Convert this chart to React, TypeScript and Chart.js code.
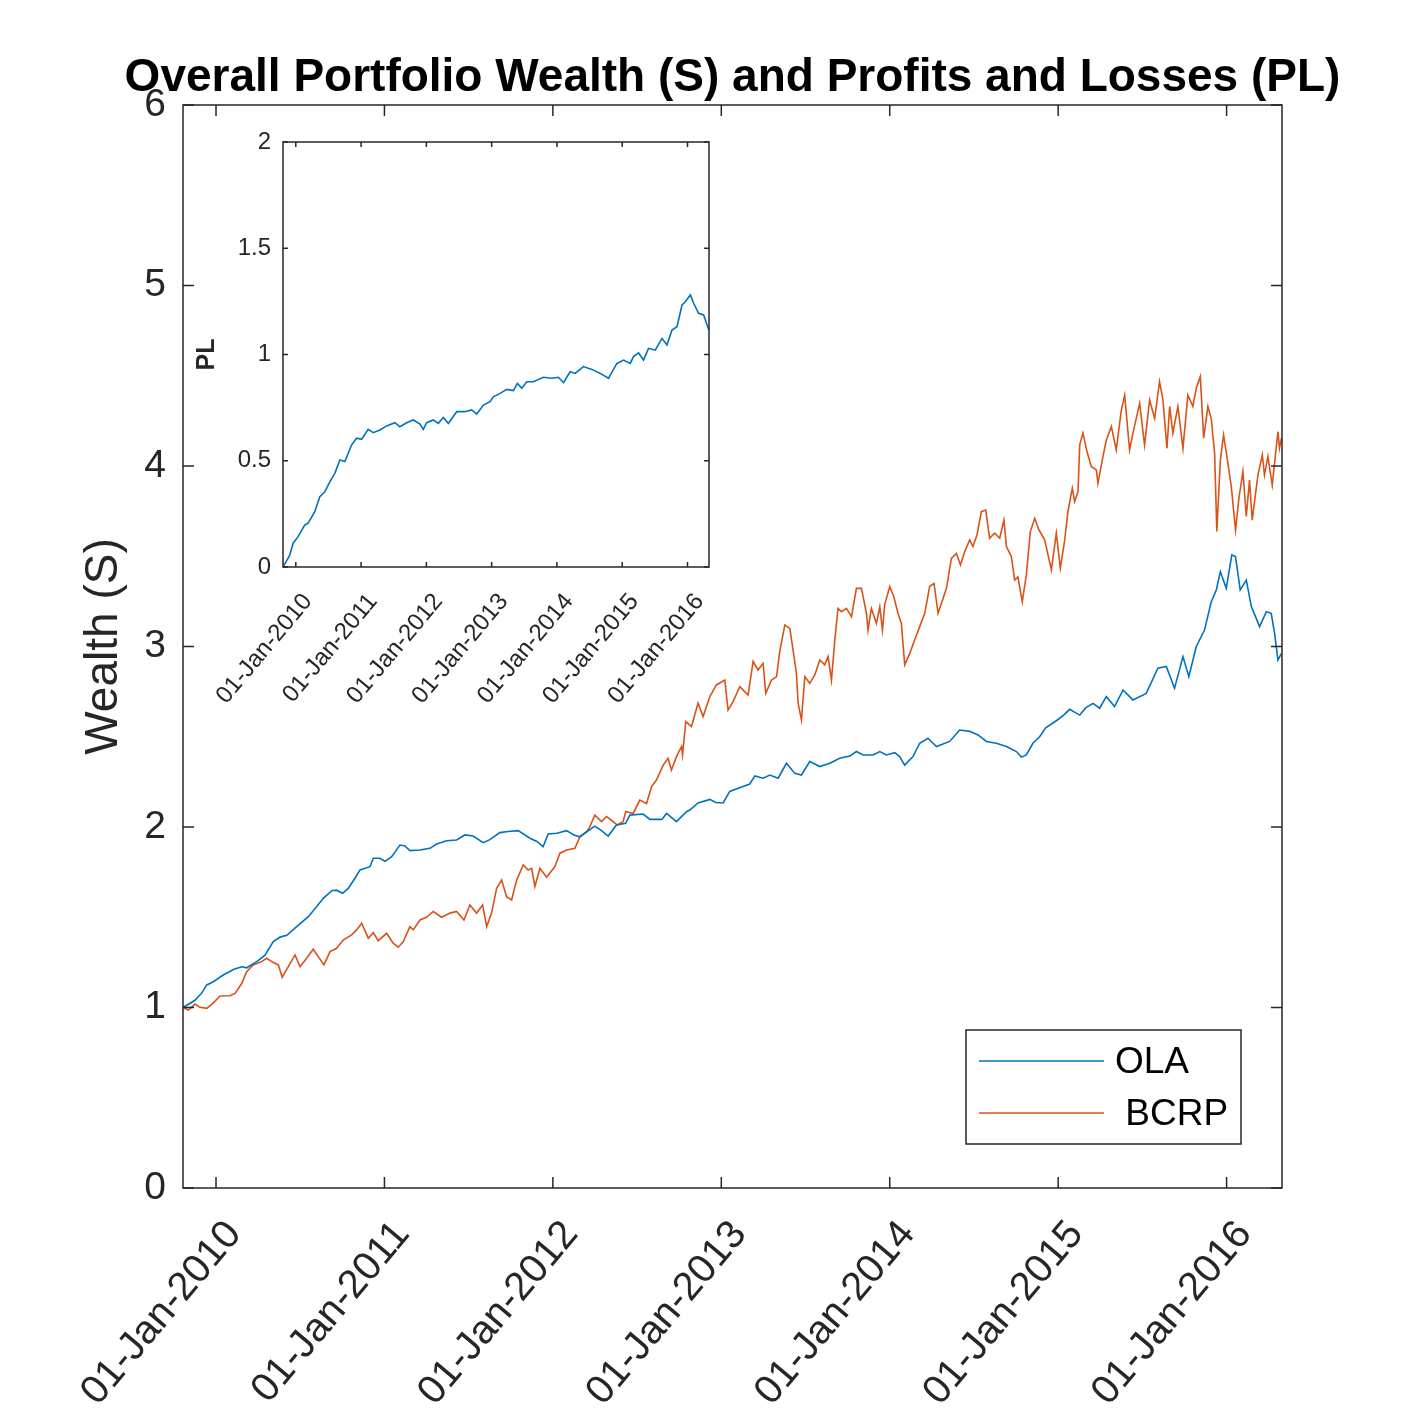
import React, { useEffect, useRef } from 'react';
import { Chart, registerables } from 'chart.js';

Chart.register(...registerables);

const FONT = "'Liberation Sans', Arial, Helvetica, sans-serif";
const AXIS_COLOR = '#262626';
const OLA_COLOR = '#0072BD';
const BCRP_COLOR = '#D95319';

const titleText = 'Overall Portfolio Wealth (S) and Profits and Losses (PL)';
const wealthAxisTitle = 'Wealth (S)';
const plAxisTitle = 'PL';
const seriesNames = ['OLA', ' BCRP'];

const dateMin = 2009.804;
const dateMax = 2016.329;
const tickYears = [2010, 2011, 2012, 2013, 2014, 2015, 2016];
const xTickLabels = ['01-Jan-2010', '01-Jan-2011', '01-Jan-2012', '01-Jan-2013', '01-Jan-2014', '01-Jan-2015', '01-Jan-2016'];
const wealthTicks = [0, 1, 2, 3, 4, 5, 6];
const plTicks = [0, 0.5, 1, 1.5, 2];

const olaDates = [
  2009.804, 2009.875, 2009.915, 2009.945, 2009.984, 2010.043, 2010.103, 2010.153, 2010.182, 2010.242,
  2010.291, 2010.340, 2010.380, 2010.420, 2010.479, 2010.548, 2010.598, 2010.637, 2010.687, 2010.716,
  2010.752, 2010.785, 2010.825, 2010.855, 2010.914, 2010.934, 2010.973, 2011.003, 2011.043, 2011.092,
  2011.122, 2011.151, 2011.211, 2011.270, 2011.310, 2011.369, 2011.428, 2011.478, 2011.527, 2011.586,
  2011.626, 2011.685, 2011.733, 2011.794, 2011.864, 2011.905, 2011.942, 2011.972, 2012.024, 2012.081,
  2012.125, 2012.160, 2012.226, 2012.249, 2012.285, 2012.328, 2012.378, 2012.432, 2012.457, 2012.536,
  2012.576, 2012.647, 2012.675, 2012.734, 2012.795, 2012.813, 2012.862, 2012.932, 2012.967, 2013.011,
  2013.050, 2013.129, 2013.169, 2013.199, 2013.248, 2013.288, 2013.337, 2013.387, 2013.436, 2013.476,
  2013.525, 2013.585, 2013.644, 2013.703, 2013.763, 2013.802, 2013.842, 2013.901, 2013.941, 2013.980,
  2014.030, 2014.059, 2014.089, 2014.138, 2014.178, 2014.227, 2014.277, 2014.356, 2014.415, 2014.475,
  2014.524, 2014.574, 2014.633, 2014.693, 2014.752, 2014.782, 2014.811, 2014.850, 2014.890, 2014.926,
  2014.991, 2015.033, 2015.068, 2015.128, 2015.163, 2015.207, 2015.246, 2015.286, 2015.335, 2015.385,
  2015.444, 2015.523, 2015.592, 2015.642, 2015.691, 2015.741, 2015.776, 2015.820, 2015.869, 2015.909,
  2015.939, 2015.963, 2015.998, 2016.031, 2016.053, 2016.081, 2016.117, 2016.147, 2016.196, 2016.236,
  2016.265, 2016.285, 2016.305, 2016.326,
];
const olaWealth = [
  1.00, 1.04, 1.08, 1.125, 1.143, 1.18, 1.21, 1.226, 1.22, 1.254,
  1.29, 1.365, 1.39, 1.40, 1.448, 1.503, 1.559, 1.605, 1.647, 1.65,
  1.633, 1.66, 1.716, 1.762, 1.78, 1.827, 1.827, 1.81, 1.836, 1.90,
  1.895, 1.869, 1.873, 1.882, 1.906, 1.924, 1.928, 1.956, 1.95, 1.913,
  1.93, 1.969, 1.975, 1.98, 1.938, 1.92, 1.891, 1.961, 1.965, 1.98,
  1.956, 1.946, 1.99, 2.005, 1.983, 1.95, 2.011, 2.02, 2.066, 2.072,
  2.042, 2.042, 2.075, 2.03, 2.086, 2.094, 2.133, 2.153, 2.136, 2.133,
  2.197, 2.224, 2.238, 2.283, 2.27, 2.288, 2.27, 2.353, 2.297, 2.288,
  2.363, 2.335, 2.353, 2.381, 2.393, 2.418, 2.399, 2.399, 2.418, 2.399,
  2.412, 2.39, 2.343, 2.39, 2.464, 2.492, 2.446, 2.474, 2.537, 2.53,
  2.51, 2.474, 2.464, 2.446, 2.418, 2.387, 2.399, 2.464, 2.50, 2.55,
  2.59, 2.62, 2.652, 2.62, 2.66, 2.685, 2.658, 2.722, 2.667, 2.759,
  2.704, 2.74, 2.88, 2.889, 2.769, 2.944, 2.833, 3.0, 3.091, 3.248,
  3.313, 3.415, 3.322, 3.507, 3.498, 3.313, 3.368, 3.221, 3.11, 3.193,
  3.184, 3.073, 2.925, 2.962,
];

const bcrpDates = [
  2009.804, 2009.836, 2009.875, 2009.905, 2009.945, 2009.984, 2010.024, 2010.083, 2010.113, 2010.153,
  2010.182, 2010.221, 2010.271, 2010.301, 2010.340, 2010.370, 2010.393, 2010.429, 2010.469, 2010.499,
  2010.538, 2010.577, 2010.607, 2010.641, 2010.677, 2010.716, 2010.755, 2010.805, 2010.835, 2010.865,
  2010.904, 2010.934, 2010.963, 2011.013, 2011.052, 2011.082, 2011.112, 2011.151, 2011.171, 2011.211,
  2011.250, 2011.290, 2011.339, 2011.389, 2011.428, 2011.472, 2011.507, 2011.547, 2011.583, 2011.607,
  2011.636, 2011.666, 2011.696, 2011.725, 2011.755, 2011.785, 2011.824, 2011.853, 2011.874, 2011.893,
  2011.923, 2011.963, 2012.012, 2012.042, 2012.081, 2012.131, 2012.160, 2012.200, 2012.220, 2012.249,
  2012.289, 2012.319, 2012.358, 2012.382, 2012.417, 2012.433, 2012.477, 2012.516, 2012.556, 2012.586,
  2012.615, 2012.655, 2012.684, 2012.704, 2012.734, 2012.764, 2012.770, 2012.789, 2012.823, 2012.862,
  2012.892, 2012.932, 2012.971, 2013.021, 2013.040, 2013.070, 2013.110, 2013.159, 2013.189, 2013.218,
  2013.248, 2013.264, 2013.298, 2013.328, 2013.347, 2013.377, 2013.407, 2013.426, 2013.446, 2013.456,
  2013.476, 2013.496, 2013.525, 2013.555, 2013.585, 2013.614, 2013.634, 2013.654, 2013.674, 2013.693,
  2013.713, 2013.743, 2013.773, 2013.802, 2013.832, 2013.862, 2013.871, 2013.891, 2013.921, 2013.941,
  2013.957, 2013.970, 2014.000, 2014.024, 2014.049, 2014.069, 2014.089, 2014.119, 2014.148, 2014.178,
  2014.208, 2014.237, 2014.263, 2014.287, 2014.307, 2014.337, 2014.366, 2014.396, 2014.420, 2014.445,
  2014.475, 2014.494, 2014.518, 2014.544, 2014.570, 2014.593, 2014.623, 2014.653, 2014.678, 2014.693,
  2014.722, 2014.742, 2014.761, 2014.787, 2014.811, 2014.835, 2014.861, 2014.884, 2014.920, 2014.960,
  2014.989, 2015.013, 2015.039, 2015.058, 2015.084, 2015.098, 2015.118, 2015.128, 2015.147, 2015.171,
  2015.197, 2015.227, 2015.236, 2015.266, 2015.286, 2015.316, 2015.345, 2015.375, 2015.395, 2015.424,
  2015.444, 2015.484, 2015.513, 2015.543, 2015.573, 2015.602, 2015.622, 2015.646, 2015.662, 2015.681,
  2015.711, 2015.741, 2015.770, 2015.800, 2015.820, 2015.844, 2015.864, 2015.889, 2015.909, 2015.929,
  2015.942, 2015.963, 2015.982, 2016.002, 2016.028, 2016.053, 2016.073, 2016.097, 2016.117, 2016.136,
  2016.152, 2016.186, 2016.212, 2016.225, 2016.245, 2016.271, 2016.291, 2016.305, 2016.314, 2016.326,
];
const bcrpWealth = [
  1.00, 0.986, 1.019, 1.001, 0.995, 1.026, 1.064, 1.065, 1.078, 1.134,
  1.199, 1.236, 1.254, 1.273, 1.249, 1.236, 1.168, 1.226, 1.291, 1.226,
  1.273, 1.323, 1.282, 1.236, 1.31, 1.328, 1.374, 1.402, 1.43, 1.467,
  1.384, 1.415, 1.37, 1.411, 1.356, 1.334, 1.365, 1.448, 1.43, 1.485,
  1.5, 1.532, 1.5, 1.523, 1.532, 1.485, 1.568, 1.523, 1.568, 1.448,
  1.523, 1.66, 1.706, 1.614, 1.596, 1.706, 1.79, 1.762, 1.771, 1.67,
  1.771, 1.722, 1.781, 1.855, 1.873, 1.882, 1.946, 1.974, 2.002, 2.066,
  2.03, 2.058, 2.03, 2.011, 2.03, 2.086, 2.075, 2.149, 2.13, 2.224,
  2.26, 2.343, 2.381, 2.316, 2.39, 2.446, 2.399, 2.584, 2.557, 2.686,
  2.612, 2.723, 2.787, 2.814, 2.648, 2.695, 2.778, 2.731, 2.917, 2.87,
  2.907, 2.741, 2.814, 2.833, 2.972, 3.119, 3.1, 2.98, 2.852, 2.686,
  2.593, 2.833, 2.796, 2.842, 2.925, 2.898, 2.944, 2.814, 3.036, 3.211,
  3.193, 3.211, 3.165, 3.322, 3.322, 3.184, 3.091, 3.211, 3.128, 3.22,
  3.091, 3.231, 3.332, 3.277, 3.184, 3.128, 2.898, 2.962, 3.036, 3.11,
  3.184, 3.332, 3.35, 3.184, 3.24, 3.322, 3.488, 3.516, 3.452, 3.526,
  3.59, 3.554, 3.618, 3.747, 3.756, 3.6, 3.628, 3.6, 3.701, 3.554,
  3.498, 3.368, 3.386, 3.248, 3.396, 3.637, 3.71, 3.65, 3.59, 3.424,
  3.628, 3.433, 3.59, 3.748, 3.877, 3.803, 3.859, 4.117, 4.182, 4.08,
  3.997, 3.978, 3.904, 4.052, 4.144, 4.218, 4.089, 4.31, 4.393, 4.089,
  4.182, 4.347, 4.116, 4.366, 4.264, 4.468, 4.366, 4.098, 4.33, 4.182,
  4.33, 4.098, 4.393, 4.33, 4.431, 4.495, 4.154, 4.33, 4.264, 4.07,
  3.637, 4.033, 4.172, 4.052, 3.886, 3.645, 3.82, 3.97, 3.72, 3.922,
  3.7, 3.95, 4.061, 3.95, 4.052, 3.895, 4.07, 4.19, 4.098, 4.154,
];

const plDates = [
  2009.804, 2009.908, 2009.959, 2010.035, 2010.138, 2010.189, 2010.291, 2010.368, 2010.445, 2010.521,
  2010.598, 2010.675, 2010.752, 2010.854, 2010.931, 2011.008, 2011.109, 2011.186, 2011.288, 2011.391,
  2011.518, 2011.595, 2011.698, 2011.799, 2011.902, 2011.952, 2012.005, 2012.106, 2012.182, 2012.259,
  2012.336, 2012.465, 2012.592, 2012.695, 2012.771, 2012.873, 2012.975, 2013.026, 2013.129, 2013.231,
  2013.333, 2013.394, 2013.462, 2013.538, 2013.639, 2013.793, 2013.922, 2014.023, 2014.100, 2014.202,
  2014.279, 2014.406, 2014.535, 2014.663, 2014.790, 2014.866, 2014.919, 2015.020, 2015.123, 2015.173,
  2015.250, 2015.327, 2015.403, 2015.506, 2015.609, 2015.685, 2015.762, 2015.839, 2015.916, 2015.966,
  2016.043, 2016.094, 2016.170, 2016.247, 2016.326,
];
const plValues = [
  0.0, 0.056, 0.112, 0.143, 0.198, 0.206, 0.26, 0.331, 0.354, 0.401,
  0.441, 0.504, 0.496, 0.574, 0.606, 0.601, 0.648, 0.632, 0.645, 0.664,
  0.679, 0.66, 0.679, 0.692, 0.673, 0.648, 0.679, 0.692, 0.676, 0.704,
  0.676, 0.731, 0.731, 0.739, 0.72, 0.762, 0.778, 0.801, 0.817, 0.836,
  0.83, 0.864, 0.841, 0.872, 0.872, 0.893, 0.888, 0.893, 0.867, 0.919,
  0.911, 0.943, 0.93, 0.911, 0.888, 0.93, 0.958, 0.974, 0.958, 0.99,
  1.008, 0.974, 1.029, 1.021, 1.076, 1.045, 1.115, 1.131, 1.233, 1.248,
  1.28, 1.241, 1.194, 1.186, 1.115,
];

const toPoints = (xs: number[], ys: number[]) => xs.map((x, i) => ({ x, y: ys[i] }));

function makeBoxTicks(len: number) {
  return {
    id: 'boxTicks',
    afterDraw(chart: any) {
      const { ctx, chartArea } = chart;
      const { left, right, top, bottom } = chartArea;
      const xs = chart.scales.x;
      const ys = chart.scales.y;
      ctx.save();
      ctx.strokeStyle = AXIS_COLOR;
      ctx.lineWidth = 1.5;
      ctx.beginPath();
      xs.ticks.forEach((t: any) => {
        const px = xs.getPixelForValue(t.value);
        ctx.moveTo(px, bottom);
        ctx.lineTo(px, bottom - len);
        ctx.moveTo(px, top);
        ctx.lineTo(px, top + len);
      });
      ys.ticks.forEach((t: any) => {
        const py = ys.getPixelForValue(t.value);
        ctx.moveTo(left, py);
        ctx.lineTo(left + len, py);
        ctx.moveTo(right, py);
        ctx.lineTo(right - len, py);
      });
      ctx.stroke();
      ctx.strokeRect(left, top, right - left, bottom - top);
      ctx.restore();
    },
  };
}

// Title centred over the plot box; allowed to run wider than the plot box (as in the source figure).
const wideTitle = {
  id: 'wideTitle',
  afterDraw(chart: any) {
    const { ctx, chartArea } = chart;
    ctx.save();
    ctx.fillStyle = '#000000';
    ctx.font = `bold 46px ${FONT}`;
    ctx.textAlign = 'center';
    ctx.textBaseline = 'middle';
    ctx.fillText(titleText, (chartArea.left + chartArea.right) / 2, chartArea.top - 27);
    ctx.restore();
  },
};

const insideLegend = {
  id: 'insideLegend',
  afterDraw(chart: any) {
    const { ctx, chartArea } = chart;
    const w = 275;
    const h = 114;
    const right = chartArea.right - 41;
    const bottom = chartArea.bottom - 44;
    const left = right - w;
    const top = bottom - h;
    ctx.save();
    ctx.fillStyle = '#ffffff';
    ctx.fillRect(left, top, w, h);
    ctx.strokeStyle = AXIS_COLOR;
    ctx.lineWidth = 1.5;
    ctx.strokeRect(left, top, w, h);
    chart.data.datasets.forEach((ds: any, i: number) => {
      const y = top + 31 + i * 52;
      ctx.strokeStyle = ds.borderColor;
      ctx.lineWidth = 1.5;
      ctx.beginPath();
      ctx.moveTo(left + 13, y);
      ctx.lineTo(left + 138, y);
      ctx.stroke();
      ctx.fillStyle = '#000000';
      ctx.font = `37px ${FONT}`;
      ctx.textBaseline = 'middle';
      ctx.textAlign = 'left';
      ctx.fillText(ds.label, left + 149, y + 2);
    });
    ctx.restore();
  },
};

export default function App() {
  const mainRef = useRef<HTMLCanvasElement | null>(null);
  const insetRef = useRef<HTMLCanvasElement | null>(null);

  useEffect(() => {
    if (!mainRef.current || !insetRef.current) return;

    const main = new Chart(mainRef.current, {
      type: 'line',
      data: {
        datasets: [
          {
            label: seriesNames[0],
            data: toPoints(olaDates, olaWealth),
            borderColor: OLA_COLOR,
            backgroundColor: OLA_COLOR,
            borderWidth: 1.6,
            pointRadius: 0,
            fill: false,
            tension: 0,
          },
          {
            label: seriesNames[1],
            data: toPoints(bcrpDates, bcrpWealth),
            borderColor: BCRP_COLOR,
            backgroundColor: BCRP_COLOR,
            borderWidth: 1.6,
            pointRadius: 0,
            fill: false,
            tension: 0,
          },
        ],
      },
      options: {
        animation: false,
        responsive: false,
        devicePixelRatio: 1,
        events: [],
        layout: { padding: { left: 0, right: 135, top: 105, bottom: 0 } },
        plugins: {
          legend: { display: false },
          tooltip: { enabled: false },
          title: { display: false },
        },
        scales: {
          x: {
            type: 'linear',
            min: dateMin,
            max: dateMax,
            grid: { display: false, drawTicks: false },
            border: { display: false },
            afterBuildTicks: (s: any) => {
              s.ticks = tickYears.map((v) => ({ value: v }));
            },
            afterFit: (s: any) => {
              s.height = 229;
              s.paddingLeft = 0;
              s.paddingRight = 0;
            },
            ticks: {
              autoSkip: false,
              minRotation: 50,
              maxRotation: 50,
              padding: 24,
              labelOffset: 18,
              color: AXIS_COLOR,
              font: { family: FONT, size: 40 },
              callback: (_v: any, i: number) => xTickLabels[i],
            },
          },
          y: {
            type: 'linear',
            min: 0,
            max: 6,
            grid: { display: false, drawTicks: false },
            border: { display: false },
            afterBuildTicks: (s: any) => {
              s.ticks = wealthTicks.map((v) => ({ value: v }));
            },
            afterFit: (s: any) => {
              s.width = 183;
              s.paddingTop = 0;
              s.paddingBottom = 0;
            },
            ticks: {
              padding: 17,
              color: AXIS_COLOR,
              font: { family: FONT, size: 39 },
              callback: (v: any) => String(v),
            },
            title: {
              display: true,
              text: wealthAxisTitle,
              color: AXIS_COLOR,
              font: { family: FONT, size: 46, lineHeight: 1.2 },
              padding: { top: 77, bottom: 0 },
            },
          },
        },
      },
      plugins: [makeBoxTicks(11), insideLegend, wideTitle],
    } as any);

    const inset = new Chart(insetRef.current, {
      type: 'line',
      data: {
        datasets: [
          {
            label: plAxisTitle,
            data: toPoints(plDates, plValues),
            borderColor: OLA_COLOR,
            borderWidth: 1.6,
            pointRadius: 0,
            fill: false,
            tension: 0,
          },
        ],
      },
      options: {
        animation: false,
        responsive: false,
        devicePixelRatio: 1,
        events: [],
        layout: { padding: { left: 0, right: 21, top: 12, bottom: 0 } },
        plugins: {
          legend: { display: false },
          tooltip: { enabled: false },
          title: { display: false },
        },
        scales: {
          x: {
            type: 'linear',
            min: dateMin,
            max: dateMax,
            grid: { display: false, drawTicks: false },
            border: { display: false },
            afterBuildTicks: (s: any) => {
              s.ticks = tickYears.map((v) => ({ value: v }));
            },
            afterFit: (s: any) => {
              s.height = 163;
              s.paddingLeft = 0;
              s.paddingRight = 0;
            },
            ticks: {
              autoSkip: false,
              minRotation: 50,
              maxRotation: 50,
              padding: 21,
              labelOffset: 12,
              color: AXIS_COLOR,
              font: { family: FONT, size: 24 },
              callback: (_v: any, i: number) => xTickLabels[i],
            },
          },
          y: {
            type: 'linear',
            min: 0,
            max: 2,
            grid: { display: false, drawTicks: false },
            border: { display: false },
            afterBuildTicks: (s: any) => {
              s.ticks = plTicks.map((v) => ({ value: v }));
            },
            afterFit: (s: any) => {
              s.width = 93;
              s.paddingTop = 0;
              s.paddingBottom = 0;
            },
            ticks: {
              padding: 12,
              color: AXIS_COLOR,
              font: { family: FONT, size: 24 },
              callback: (v: any) => String(v),
            },
            title: {
              display: true,
              text: plAxisTitle,
              color: AXIS_COLOR,
              font: { family: FONT, size: 25, weight: 'bold', lineHeight: 1.2 },
              padding: { top: 2, bottom: 0 },
            },
          },
        },
      },
      plugins: [makeBoxTicks(5)],
    } as any);

    return () => {
      main.destroy();
      inset.destroy();
    };
  }, []);

  return (
    <div style={{ position: 'absolute', left: 0, top: 0, width: 1417, height: 1417, background: '#ffffff' }}>
      <canvas ref={mainRef} width={1417} height={1417} style={{ position: 'absolute', left: 0, top: 0 }} />
      <canvas ref={insetRef} width={540} height={600} style={{ position: 'absolute', left: 190, top: 130 }} />
    </div>
  );
}
